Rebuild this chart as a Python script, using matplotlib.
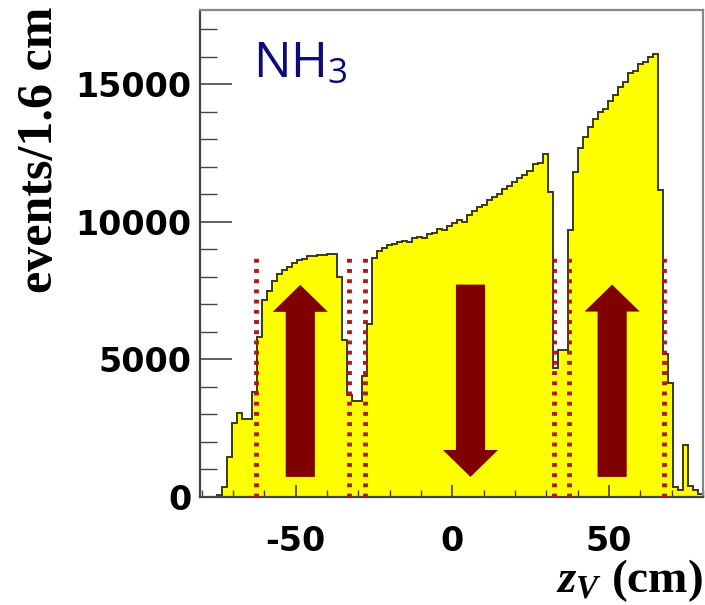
import numpy as np
import matplotlib
matplotlib.use("Agg")
import matplotlib.pyplot as plt

# z_V histogram, 1.6 cm bins from -80 to 80 cm
bin_width = 1.6
z_lo = -80.0
counts = [
    0, 0, 0, 80, 350, 1450, 2700, 3050, 2850, 2850,
    3800, 5800, 7150, 7500, 7850, 8100, 8250, 8350, 8500, 8600,
    8650, 8750, 8750, 8800, 8800, 8850, 8850, 8000, 5700, 3700,
    3500, 3500, 4400, 6300, 8700, 8950, 9050, 9150, 9200, 9250,
    9300, 9250, 9400, 9450, 9400, 9550, 9600, 9750, 9700, 9850,
    9950, 10050, 10000, 10250, 10400, 10550, 10600, 10800, 10900, 11000,
    11200, 11300, 11450, 11600, 11700, 11850, 12100, 12150, 12450, 11100,
    4700, 5350, 5350, 9700, 11800, 12700, 13100, 13450, 13750, 14000,
    14100, 14400, 14600, 14900, 15100, 15400, 15500, 15750, 15800, 16000,
    16100, 11150, 5200, 4150, 350, 250, 1900, 400, 250, 100,
]
edges = z_lo + bin_width * np.arange(len(counts) + 1)

# target cell boundaries (dotted lines)
cell_edges = [-62.6, -32.9, -27.8, 32.3, 37.4, 67.4]
cell_top = 8800

# polarisation arrows: centre z, start, end
arrow_z = [-48.5, 5.8, 51.0]
arrow_start = [730, 7720, 730]
arrow_end = [7710, 730, 7720]

x_ticks = [-50, 0, 50]
y_ticks = [0, 5000, 10000, 15000]

plt.rcParams["axes.unicode_minus"] = False
plt.rcParams["mathtext.fontset"] = "custom"
plt.rcParams["mathtext.it"] = "Liberation Serif:bold:italic"
plt.rcParams["mathtext.rm"] = "Liberation Serif:bold"
plt.rcParams["mathtext.sf"] = "Open Sans"

fig = plt.figure(figsize=(7.05, 6.05), dpi=100)
ax = fig.add_axes([200 / 705, 108 / 605, 503 / 705, 487 / 605])

ax.stairs(counts, edges, fill=True, color="#ffff00", zorder=1)
ax.stairs(counts, edges, color="#3a3a1a", lw=1.4, zorder=2)

for z in cell_edges:
    ax.plot([z, z], [0, cell_top], color="#b01818", lw=3.5,
            ls=(0, (0.8, 1.3)), zorder=3)

for z, y0, y1 in zip(arrow_z, arrow_start, arrow_end):
    ax.arrow(z, y0, 0, y1 - y0, width=9.3, head_width=17.6,
             head_length=980, length_includes_head=True,
             color="#800000", lw=0, zorder=4)

ax.set_xlim(-80.5, 80)
ax.set_ylim(0, 17700)
ax.set_xticks(x_ticks)
ax.set_yticks(y_ticks)
ax.set_xticks(np.arange(-80, 81, 10), minor=True)
ax.set_yticks(np.arange(0, 17001, 1000), minor=True)
ax.tick_params(axis="both", which="both", direction="in", color="#444")
ax.tick_params(axis="y", which="major", length=23, width=1.2, pad=6)
ax.tick_params(axis="y", which="minor", length=12, width=1.0)
ax.tick_params(axis="x", which="major", length=9, width=1.2, pad=20)
ax.tick_params(axis="x", which="minor", length=5, width=1.0)
for lab in ax.get_xticklabels() + ax.get_yticklabels():
    lab.set_fontsize(24)
    lab.set_fontweight("bold")
    lab.set_family("DejaVu Sans")

for side in ["left", "bottom"]:
    ax.spines[side].set_color("#444")
    ax.spines[side].set_linewidth(1.6)
for side in ["top", "right"]:
    ax.spines[side].set_color("#888")
    ax.spines[side].set_linewidth(1.6)

fig.text(253 / 705, 1 - 77 / 605, r"NH$_\mathsf{3}$", color="#0c0c78",
         fontsize=36, family="Open Sans", ha="left", va="baseline")

fig.text(40 / 705, 1 - 150 / 605, "events/1.6 cm", rotation=90,
         family="Liberation Serif", fontweight="bold", fontsize=36,
         ha="center", va="center")
fig.text(703 / 705, 1 - 592 / 605, r"$z_V\ \mathrm{(cm)}$",
         fontsize=34, ha="right", va="baseline")

fig.savefig("out.png", dpi=100)
